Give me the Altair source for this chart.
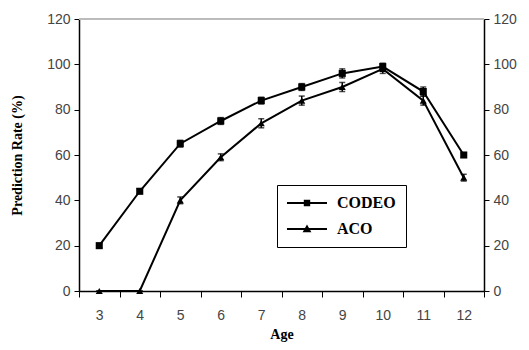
import altair as alt
import pandas as pd

ages = [3, 4, 5, 6, 7, 8, 9, 10, 11, 12]
codeo = [20, 44, 65, 75, 84, 90, 96, 99, 88, 60]
aco = [0, 0, 40, 59, 74, 84, 90, 98, 84, 50]
codeo_err = [1, 1, 1.5, 1.5, 1.5, 1.5, 2, 1.5, 2, 1]
aco_err = [0, 0, 1.5, 1.5, 2, 2, 2, 2, 2, 1.5]
series = ["CODEO", "ACO"]
y_ticks = [0, 20, 40, 60, 80, 100, 120]
y_title = "Prediction Rate (%)"

rows = []
for a, v, e in zip(ages, codeo, codeo_err):
    rows.append({"age": a, "rate": v, "err": e, "series": "CODEO"})
for a, v, e in zip(ages, aco, aco_err):
    rows.append({"age": a, "rate": v, "err": e, "series": "ACO"})
df = pd.DataFrame(rows)
df["lo"] = df["rate"] - df["err"]
df["hi"] = df["rate"] + df["err"]

label_color = "#444444"
xscale = alt.Scale(type="band", paddingInner=0, paddingOuter=0)
yscale = alt.Scale(domain=[0, 120], nice=False)

x_enc = alt.X("age:O", scale=xscale, sort=ages, title="Age",
              axis=alt.Axis(labelAngle=0, tickBand="extent", domainColor="black",
                            tickColor="black", tickSize=6, tickWidth=1, domainWidth=1.5,
                            labelFont="Liberation Sans", labelFontSize=14, labelColor=label_color,
                            labelPadding=11, titleFont="Liberation Serif", titleFontWeight="bold",
                            titleFontSize=14, titleColor="black", titlePadding=5, grid=False))
y_left = alt.Y("rate:Q", scale=yscale, title=y_title,
               axis=alt.Axis(values=y_ticks, domainColor="black", tickColor="black", tickSize=5,
                             domainWidth=1.5, labelFont="Liberation Sans", labelFontSize=14,
                             labelColor=label_color, labelPadding=4, titleFont="Liberation Serif",
                             titleFontWeight="bold", titleFontSize=14, titleColor="black",
                             titlePadding=22, grid=False))

base = alt.Chart(df)

lines = base.mark_line(color="black", strokeWidth=2).encode(
    x=x_enc, y=y_left, detail="series:N")

errs = base.mark_errorbar(color="black", ticks={"size": 6, "thickness": 1.5}, thickness=1.5).encode(
    x=alt.X("age:O", scale=xscale, sort=ages, title="Age"),
    y=alt.Y("lo:Q", scale=yscale, title=y_title),
    y2="hi:Q")

pts = base.mark_point(filled=True, color="black", opacity=1, size=50).encode(
    x=alt.X("age:O", scale=xscale, sort=ages, title="Age"),
    y=alt.Y("rate:Q", scale=yscale, title=y_title),
    shape=alt.Shape("series:N", scale=alt.Scale(domain=series, range=["square", "triangle-up"]),
                    legend=None))

paths = ["M-1,-0.13H4V0.13H-1ZM1.1,-0.4H1.9V0.4H1.1Z",
         "M-1,-0.13H4V0.13H-1ZM1.5,-0.55L2.05,0.4H0.95Z"]
leg = base.mark_point(filled=True, color="black", opacity=0).encode(
    x=alt.X("age:O", scale=xscale, sort=ages, title="Age"),
    y=alt.Y("rate:Q", scale=yscale, title=y_title),
    shape=alt.Shape("series:N", scale=alt.Scale(domain=series, range=paths),
                    legend=alt.Legend(title=None, orient="none", legendX=198, legendY=166,
                                      strokeColor="black", fillColor="white", padding=10,
                                      symbolSize=256, symbolOpacity=1, symbolFillColor="black",
                                      symbolStrokeColor="black", symbolStrokeWidth=0,
                                      labelFont="Liberation Serif", labelFontWeight="bold",
                                      labelFontSize=16, labelColor="black", labelOffset=34,
                                      rowPadding=10)))

inner = alt.layer(lines, errs, pts, leg).resolve_scale(shape="independent")

right = alt.Chart(df).mark_rule(color="#bbbbbb", strokeWidth=1).encode(
    y=alt.YDatum(120, type="quantitative", scale=yscale,
                 axis=alt.Axis(orient="right", values=y_ticks, title=None, domainColor="black",
                               tickColor="black", tickSize=5, domainWidth=1.5,
                               labelFont="Liberation Sans", labelFontSize=14,
                               labelColor=label_color, labelPadding=4, grid=False)))

chart = alt.layer(inner, right).resolve_scale(y="independent").properties(
    width=405, height=272,
    autosize=alt.AutoSizeParams(type="none"),
    padding={"left": 71, "top": 11, "right": 37, "bottom": 51},
).configure_view(stroke=None).configure(background="white")

chart.save("out.html", embed_options={"renderer": "svg", "actions": False})
